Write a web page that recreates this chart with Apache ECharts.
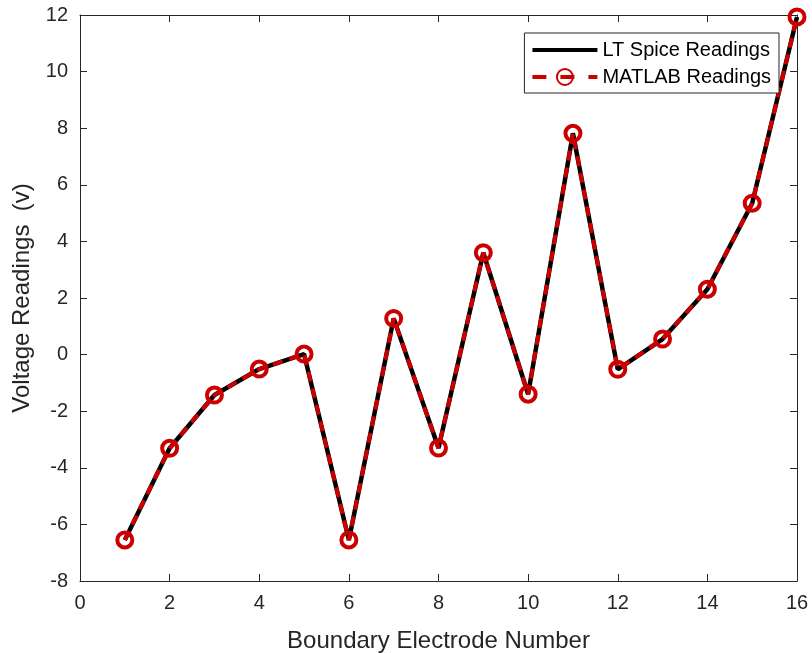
<!DOCTYPE html>
<html><head><meta charset="utf-8">
<script src="https://cdn.jsdelivr.net/npm/echarts@6/dist/echarts.min.js"></script>
<style>html,body{margin:0;padding:0;background:#fff}#c{width:812px;height:653px}</style>
</head><body><div id="c"></div>
<script>
const electrodes = [1,2,3,4,5,6,7,8,9,10,11,12,13,14,15,16];
const ltSpice = [-6.55,-3.31,-1.43,-0.51,0.02,-6.55,1.28,-3.30,3.60,-1.40,7.82,-0.52,0.55,2.31,5.35,11.93];
const matlab  = [-6.55,-3.31,-1.43,-0.51,0.02,-6.55,1.28,-3.30,3.60,-1.40,7.82,-0.52,0.55,2.31,5.35,11.93];
const seriesNames = ['LT Spice Readings','MATLAB Readings'];

const txt = '#262626';
const font = 'Arial, "Liberation Sans", Helvetica, sans-serif';
const chart = echarts.init(document.getElementById('c'));
const axLine = {show:true, onZero:false, lineStyle:{color:txt, width:1}};
const tick = {show:true, inside:true, length:7, lineStyle:{color:txt}};
chart.setOption({
  animation:false,
  textStyle:{fontFamily:font},
  grid:{left:80, right:15, top:15, bottom:72, show:false, containLabel:false, outerBoundsMode:'none'},
  legend:{
    right:33, top:33, orient:'vertical', backgroundColor:'#fff',
    borderColor:txt, borderWidth:1, borderRadius:0, padding:[7,8,6,6], itemGap:7,
    itemWidth:65, itemHeight:20,
    textStyle:{fontSize:20, color:'#000', fontFamily:font, padding:[0,0,0,0]},
    data:[
      {name:seriesNames[0], itemStyle:{color:'transparent', borderWidth:0}, lineStyle:{width:4, color:'#000'}},
      {name:seriesNames[1], lineStyle:{width:4, color:'#cc0000', type:[14,14]}}
    ]
  },
  xAxis:[{
    type:'value', min:0, max:16, interval:2,
    name:'Boundary Electrode Number', nameLocation:'middle', nameGap:48,
    nameTextStyle:{fontSize:24, color:txt},
    axisLine:axLine, axisTick:tick, splitLine:{show:false},
    axisLabel:{fontSize:20, color:txt, margin:12}
  },{
    type:'value', min:0, max:16, interval:2, position:'top',
    axisLine:axLine, axisTick:tick, splitLine:{show:false}, axisLabel:{show:false}
  }],
  yAxis:[{
    type:'value', min:-8, max:12, interval:2,
    name:'Voltage Readings  (v)', nameLocation:'middle', nameGap:43,
    nameTextStyle:{fontSize:24, color:txt},
    axisLine:axLine, axisTick:tick, splitLine:{show:false},
    axisLabel:{fontSize:20, color:txt, margin:12}
  },{
    type:'value', min:-8, max:12, interval:2, position:'right',
    axisLine:axLine, axisTick:tick, splitLine:{show:false}, axisLabel:{show:false}
  }],
  series:[{
    name:seriesNames[0], type:'line',
    data:electrodes.map((x,i)=>[x,ltSpice[i]]),
    symbol:'none', lineStyle:{color:'#000', width:4.5},
    itemStyle:{color:'#000'}, z:2
  },{
    name:seriesNames[1], type:'line',
    data:electrodes.map((x,i)=>[x,matlab[i]]),
    symbol:'circle', symbolSize:15,
    lineStyle:{color:'#cc0000', width:4, type:[10,7]},
    itemStyle:{color:'transparent', borderColor:'#cc0000', borderWidth:4},
    z:3
  }]
});
</script></body></html>
